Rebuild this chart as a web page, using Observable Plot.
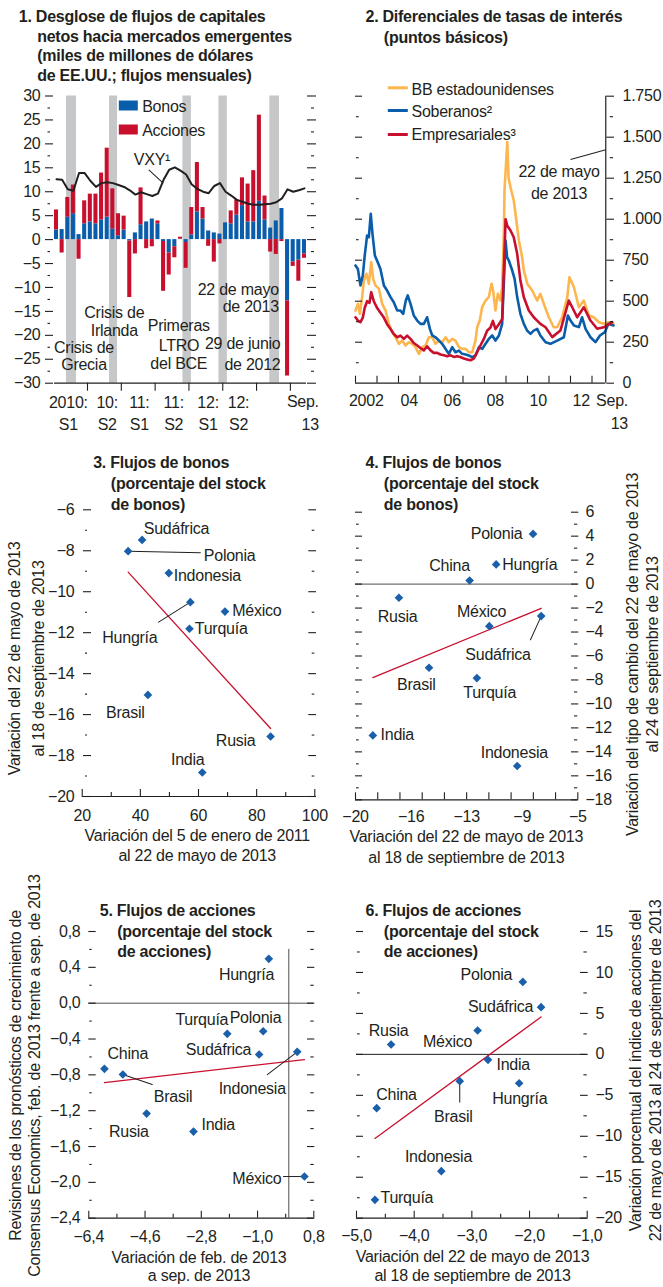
<!DOCTYPE html>
<html><head><meta charset="utf-8">
<script src="https://cdn.jsdelivr.net/npm/d3@7"></script>
<script src="https://cdn.jsdelivr.net/npm/@observablehq/plot@0.6"></script>
<style>
html,body{margin:0;padding:0;background:#fff;}
#root{position:relative;width:663px;height:1287px;overflow:hidden;background:#fff;}
</style></head><body><div id="root"></div>
<script>
// ===================== DATOS =====================
// Panel 1: flujos mensuales (ene-2010 a sep-2013), miles de millones de USD
const bonos = [2.0,2.1,4.7,5.4,1.05,3.3,3.7,3.3,4.1,4.7,2.2,0.8,2.0,-0.3,1.4,3.1,3.7,4.3,3.3,-0.4,-2.8,-1.5,0.1,-0.6,1.0,5.8,4.3,1.8,1.4,1.15,3.5,3.3,5.1,7.1,3.7,3.7,8.0,4.1,2.4,3.9,6.5,-12.8,-4.7,-4.3,-3.0];
const acciones = [4.2,-2.8,4.1,6.0,-4.1,4.8,5.8,6.2,9.8,14.4,8.4,4.6,2.9,-11.8,-3.0,7.7,-1.9,-1.5,0.6,-10.4,-4.6,-2.3,0.4,-5.4,5.7,10.3,2.4,-1.4,-4.7,-0.9,0,2.7,3.2,5.8,7.9,10.7,18.0,5.0,-2.6,-3.1,-0.4,-15.7,-0.9,-4.4,-0.9];
const vxy = [12.6,12.5,10.5,10.2,13.9,13.9,12.3,11.0,11.8,12.0,11.8,11.4,11.0,10.3,9.4,9.9,9.5,9.1,9.6,12.5,14.6,15.1,14.4,13.6,11.5,10.6,10.0,9.7,11.2,11.8,10.0,9.2,8.3,7.9,7.5,7.3,7.3,7.4,7.5,7.8,8.6,10.5,10.0,10.3,10.7];
const bandasGrises = [[1.78,3.55],[9.41,10.83],[22.43,23.93],[28.83,30.32],[37.85,39.57]];
const ticksSemestre = [5.5,11.5,17.5,23.5,29.5,35.5,41.5];
const posSemestre = [2.1,9,14.7,20.8,26.9,32.3];
const etiqSem1 = ["2010:","10:","11:","11:","12:","12:"];
const etiqSem2 = ["S1","S2","S1","S2","S1","S2"];
const ticksY1 = [30,25,20,15,10,5,0,-5,-10,-15,-20,-25,-30];
const ticksY1m = [27.5,22.5,17.5,12.5,7.5,2.5,-2.5,-7.5,-12.5,-17.5,-22.5,-27.5];

// Panel 2: diferenciales (puntos básicos)
const bbX = [2002.00,2002.11,2002.20,2002.31,2002.39,2002.51,2002.62,2002.73,2002.82,2002.93,2003.09,2003.24,2003.40,2003.55,2003.71,2003.86,2004.02,2004.17,2004.33,2004.48,2004.64,2004.79,2004.95,2005.10,2005.26,2005.41,2005.57,2005.72,2005.88,2006.03,2006.19,2006.34,2006.50,2006.65,2006.81,2006.96,2007.12,2007.27,2007.43,2007.58,2007.66,2007.78,2007.89,2008.05,2008.20,2008.33,2008.40,2008.51,2008.62,2008.74,2008.82,2008.90,2008.93,2009.06,2009.12,2009.21,2009.36,2009.44,2009.60,2009.75,2009.83,2009.99,2010.22,2010.45,2010.60,2010.76,2010.99,2011.22,2011.38,2011.61,2011.85,2011.95,2012.16,2012.39,2012.62,2012.85,2013.08,2013.32,2013.55,2013.78,2014.00];
const bbY = [443,484,423,525,626,667,606,738,636,596,575,484,443,362,311,280,240,260,230,250,240,220,179,220,230,280,280,240,260,250,280,250,270,260,220,209,209,189,189,260,342,382,464,504,525,606,565,443,545,504,586,911,1175,1470,1250,1195,1114,1035,870,768,687,607,565,504,545,484,402,341,341,402,524,646,585,463,504,413,402,372,362,372,362];
const sobX = [2002.00,2002.11,2002.23,2002.34,2002.43,2002.54,2002.62,2002.71,2002.79,2002.90,2003.00,2003.16,2003.32,2003.47,2003.63,2003.78,2003.94,2004.09,2004.22,2004.34,2004.43,2004.56,2004.71,2004.87,2005.02,2005.18,2005.33,2005.46,2005.57,2005.72,2005.88,2006.03,2006.19,2006.34,2006.50,2006.65,2006.81,2006.96,2007.12,2007.27,2007.43,2007.58,2007.74,2007.89,2008.05,2008.20,2008.36,2008.51,2008.67,2008.82,2008.93,2008.98,2009.05,2009.13,2009.29,2009.40,2009.52,2009.67,2009.83,2009.98,2010.14,2010.29,2010.45,2010.60,2010.84,2011.07,2011.38,2011.69,2011.88,2012.00,2012.16,2012.39,2012.54,2012.70,2012.93,2013.16,2013.37,2013.60,2013.76,2014.00];
const sobY = [718,697,596,657,779,901,890,1033,911,779,748,697,596,565,525,494,443,443,423,504,535,484,413,382,362,362,402,331,291,280,260,240,209,179,220,189,199,179,175,169,159,169,220,209,240,270,291,260,291,362,707,870,768,748,687,636,525,423,362,321,301,321,331,291,250,240,260,280,413,382,352,342,402,331,280,250,291,311,362,352];
const empX = [2002.00,2002.11,2002.23,2002.34,2002.43,2002.54,2002.65,2002.73,2002.85,2003.00,2003.16,2003.32,2003.47,2003.63,2003.78,2003.94,2004.09,2004.25,2004.40,2004.56,2004.71,2004.87,2005.02,2005.18,2005.33,2005.49,2005.64,2005.80,2005.95,2006.11,2006.26,2006.42,2006.57,2006.73,2006.88,2007.04,2007.19,2007.35,2007.50,2007.66,2007.81,2007.97,2008.12,2008.28,2008.39,2008.51,2008.67,2008.82,2008.93,2008.98,2009.06,2009.21,2009.36,2009.52,2009.67,2009.83,2010.06,2010.29,2010.60,2010.84,2011.15,2011.53,2011.92,2012.08,2012.31,2012.62,2012.93,2013.24,2013.55,2013.94];
const empY = [402,382,372,400,460,500,490,555,500,460,430,400,360,330,300,280,290,270,290,270,245,230,215,200,225,200,185,185,175,170,165,170,160,165,160,150,145,140,150,190,230,270,320,340,380,330,360,390,800,1000,960,931,890,789,626,524,443,402,362,341,281,321,504,463,402,463,382,332,341,372];
const finEje2 = 2013.64;
const ticksAnios = [2002,2003,2004,2005,2006,2007,2008,2009,2010,2011,2012,2013];
const posAnios = [2002.5,2004.5,2006.5,2008.5,2010.5,2012.5];
const etiqAnios = ["2002","04","06","08","10","12"];
const ticksY2 = [0,250,500,750,1000,1250,1500,1750];
const ticksY2m = [125,375,625,875,1125,1375,1625];

// Panel 3
const paises3 = ["Sudáfrica","Polonia","Indonesia","Hungría","México","Turquía","Brasil","Rusia","India"];
const x3 = [40.6,35.8,49.8,57.2,69.1,56.9,42.6,84.8,61.3];
const y3 = [-7.47,-8.02,-9.09,-10.51,-10.97,-11.81,-15.04,-17.07,-18.83];
// Panel 4
const paises4 = ["Polonia","Hungría","China","Rusia","México","Sudáfrica","Brasil","Turquía","India","Indonesia"];
const x4 = [-8.02,-10.51,-12.3,-17.07,-10.97,-7.47,-15.04,-11.81,-18.83,-9.09];
const y4 = [4.19,1.64,0.30,-1.14,-3.51,-2.67,-6.98,-7.84,-12.63,-15.18];
const ticksX4 = [-20,-18.5,-17,-15.5,-14,-12.5,-11,-9.5,-8,-6.5,-5];
const posEtiqX4 = [-20,-16.25,-12.5,-8.75,-5];
const etiqX4 = ["−20","−16","−13","−9","−5"];
// Panel 5
const paises5 = ["Hungría","Turquía","Polonia","Sudáfrica","Indonesia","China","Brasil","Rusia","India","México"];
const x5 = [-0.64,-1.97,-0.82,-0.95,0.27,-5.9,-5.31,-4.55,-3.05,0.5];
const y5 = [0.495,-0.342,-0.313,-0.573,-0.543,-0.733,-0.796,-1.232,-1.433,-1.935];
// Panel 6
const paises6 = ["Polonia","Sudáfrica","México","Rusia","India","Brasil","Hungría","China","Indonesia","Turquía"];
const x6 = [-2.116,-1.80,-2.90,-4.40,-2.72,-3.21,-2.18,-4.65,-3.53,-4.68];
const y6 = [8.85,5.76,2.91,1.20,-0.67,-3.27,-3.52,-6.57,-14.26,-17.76];

// ===================== POSICIONES DE ETIQUETAS (px) =====================
const lab3 = {"Sudáfrica":["start",1.7,-6],"Polonia":["start",75.7,10],"Indonesia":["start",4.9,8.1],"México":["start",7.2,4.9],"Turquía":["start",5.3,5.7],"Hungría":["end",-32.9,41.3],"Brasil":["end",-3.4,22.6],"Rusia":["end",-15.1,10],"India":["end",2.2,-7.1]};
const gui3 = {"Polonia":[72.3,91.3],"Hungría":[37.5,-122.2]};
const lab4 = {"Polonia":["end",-10.7,5.6],"China":["end",0.2,-10],"Hungría":["start",6.1,5.4],"Rusia":["middle",-1.4,24.4],"México":["middle",-7.8,-9],"Sudáfrica":["middle",-43.2,44.4],"Brasil":["middle",-12.7,22.7],"Turquía":["middle",12.8,20.4],"India":["start",7.7,5],"Indonesia":["middle",-2.9,-7.6]};
const gui4 = {"Sudáfrica":[26,-155.7]};
const lab5 = {"Hungría":["middle",-22.3,21],"Turquía":["end",1,-9.3],"Polonia":["middle",-7.7,-8],"Sudáfrica":["end",-7.9,0],"China":["start",3.1,-9.4],"Indonesia":["middle",-45,42.6],"Brasil":["start",30.9,28],"Rusia":["middle",-17.8,23.9],"India":["start",8,-1.8],"México":["end",-22.9,7.2]};
const gui5 = {"Indonesia":[37.7,-127.4],"Brasil":[31,108.8],"México":[21,-90]};
const lab6 = {"Polonia":["end",-10.6,-2.1],"Sudáfrica":["end",-7.8,5.3],"Rusia":["middle",-2.6,-8.1],"México":["end",-5.4,16.2],"India":["start",8.5,10.2],"China":["start",-0.5,-8.1],"Hungría":["middle",0.7,20.3],"Brasil":["middle",-6.4,41.3],"Indonesia":["middle",-2.8,-9.4],"Turquía":["start",5.5,3.2]};
const gui6 = {"Brasil":[21,180]};

// ===================== ESTILO =====================
const INK="#231f20", BLUE="#0a5dab", RED="#c8102e", YEL="#fdb64e", GREYB="#c6c7c9", DOTC="#1a5fa9";
function fontOK(name){
  const c=document.createElement("canvas").getContext("2d");
  const s="Variación del 5 de enero WMmiIl 2011";
  c.font="40px monospace"; const a=c.measureText(s).width;
  c.font="40px serif"; const b=c.measureText(s).width;
  c.font=`40px "${name}", monospace`; const a2=c.measureText(s).width;
  c.font=`40px "${name}", serif`; const b2=c.measureText(s).width;
  return a!==a2 || b!==b2;
}
let FAM, FS, LS;
if (fontOK("Liberation Sans Narrow")) {FAM='"Liberation Sans Narrow", sans-serif'; FS=17; LS=0.65;}
else if (fontOK("Arial Narrow")) {FAM='"Arial Narrow", sans-serif'; FS=17; LS=0.65;}
else {FAM='"Liberation Sans", Arial, sans-serif'; FS=16; LS=-0.25;}

const LINE = {draw(ctx, l){ ctx.moveTo(0,0); ctx.lineTo(0,-l); }};
const fmtEnt = d => (d<0?"−":"")+Math.abs(d);
const fmtMiles = d => d>=1000 ? `${Math.floor(d/1000)}.${String(d%1000).padStart(3,"0")}` : String(d);
const fmtDec = d => (d<-1e-9?"−":"")+Math.abs(d).toFixed(1).replace(".",",");

const root=document.getElementById("root");
function fr(p){return {fx:p.left+p.ml, fy:p.top+p.mt};}
function T(p,str,X,Y,o={}){
  const f=fr(p);
  return Plot.text([str],{text:d=>d,frameAnchor:"top-left",dx:X-f.fx,dy:Y-f.fy,lineAnchor:"bottom",
    textAnchor:o.anchor||"start",fontWeight:o.bold?"bold":"normal",rotate:o.rotate||0,fill:INK});
}
function S(p,X1,Y1,X2,Y2,o={}){
  const f=fr(p), a=X2-X1, b=Y2-Y1;
  return Plot.vector([0],{frameAnchor:"top-left",dx:X1-f.fx,dy:Y1-f.fy,length:Math.hypot(a,b),
    rotate:Math.atan2(a,-b)*180/Math.PI,anchor:"start",shape:LINE,stroke:o.stroke||INK,strokeWidth:o.sw||1,strokeLinecap:"butt"});
}
function yT(side,vals,size,dx){return Plot.axisY({anchor:side,ticks:vals,tickSize:size,dx,fill:"none",stroke:INK,strokeWidth:1.1,label:null});}
function xT(vals,size,dy){return Plot.axisX({anchor:"bottom",ticks:vals,tickSize:size,dy:dy===undefined?-size:dy,fill:"none",stroke:INK,strokeWidth:1.1,label:null});}
function yL(side,vals,fmt,dx){return Plot.text(vals,{y:d=>d,frameAnchor:side,dx,textAnchor:side==="left"?"end":"start",text:fmt,fill:INK});}
function xL(vals,texts,dy){return Plot.text(vals,{x:d=>d,frameAnchor:"bottom",dy,lineAnchor:"bottom",text:(d,i)=>texts[i],fill:INK});}
function render(p,opts){
  const svg=Plot.plot({width:p.width,height:p.height,marginLeft:p.ml,marginRight:p.mr,marginTop:p.mt,marginBottom:p.mb,...opts});
  const st=svg.style;
  st.position="absolute"; st.left=p.left+"px"; st.top=p.top+"px"; st.overflow="visible";
  st.background="transparent"; st.maxWidth="none"; st.fontFamily=FAM; st.fontSize=FS+"px";
  st.letterSpacing=LS+"px"; st.color=INK;
  root.appendChild(svg);
}
function scatter(nombres,xs,ys,lab,gui){
  const datos=nombres.map((n,i)=>({n,x:xs[i],y:ys[i]}));
  const m=[Plot.linearRegressionY(datos,{x:"x",y:"y",stroke:RED,strokeWidth:1.3,ci:0})];
  for(const d of datos){const g=gui[d.n]; if(g) m.push(Plot.vector([d],{x:"x",y:"y",length:g[0],rotate:g[1],anchor:"start",shape:LINE,stroke:INK,strokeWidth:1}));}
  m.push(Plot.dot(datos,{x:"x",y:"y",symbol:"diamond2",r:3.9,fill:DOTC,stroke:"none"}));
  for(const d of datos){const e=lab[d.n]; m.push(Plot.text([d],{x:"x",y:"y",text:"n",textAnchor:e[0],dx:e[1],dy:e[2],lineAnchor:"bottom",fill:INK}));}
  return m;
}

// ===================== PANEL 1 =====================
{
  const p={left:0,top:0,width:331,height:440,ml:54,mr:25,mt:95.5,mb:57.3};
  const barras=[];
  bonos.forEach((b,i)=>{
    const a=acciones[i];
    barras.push({i,s:"B",y1:0,y2:b});
    const base=((a>=0)===(b>=0))?b:0;
    barras.push({i,s:"A",y1:base,y2:base+a});
  });
  render(p,{
    x:{domain:[-0.355,44.36]}, y:{domain:[-30,30]},
    marks:[
      Plot.rect(bandasGrises,{x1:d=>d[0],x2:d=>d[1],y1:-30,y2:30,fill:GREYB}),
      Plot.rect(barras.filter(d=>d.s==="B"),{x1:d=>d.i-0.36,x2:d=>d.i+0.36,y1:"y1",y2:"y2",fill:BLUE}),
      Plot.rect(barras.filter(d=>d.s==="A"),{x1:d=>d.i-0.36,x2:d=>d.i+0.36,y1:"y1",y2:"y2",fill:RED}),
      Plot.line(vxy,{x:(d,i)=>i,y:d=>d,stroke:INK,strokeWidth:2}),
      Plot.ruleY([-30],{stroke:INK,strokeWidth:1.2}),
      yT("left",ticksY1,8,-1), yT("left",ticksY1m,2.5,-4),
      yT("right",ticksY1,9,0), yT("right",ticksY1m,3,4),
      yL("left",ticksY1,fmtEnt,-14),
      xT(ticksSemestre,8,0),
      xL(posSemestre,etiqSem1,24.6), xL(posSemestre,etiqSem2,46.6),
      T(p,"Sep.",318.3,406.7,{anchor:"end"}), T(p,"13",318.3,429.3,{anchor:"end"}),
      T(p,"1. Desglose de flujos de capitales",18.3,21.7,{bold:true}),
      T(p,"netos hacia mercados emergentes",36.7,41.3,{bold:true}),
      T(p,"(miles de millones de dólares",36.7,60.9,{bold:true}),
      T(p,"de EE.UU.; flujos mensuales)",36.7,80.5,{bold:true}),
      S(p,118.3,105,137.3,105,{stroke:BLUE,sw:10}), S(p,118.3,129,137.3,129,{stroke:RED,sw:10}),
      T(p,"Bonos",141.7,111.7), T(p,"Acciones",141.7,135),
      T(p,"VXY¹",133.3,164), S(p,148.3,169.3,162.7,182.7),
      T(p,"Crisis de",83.5,352.7,{anchor:"middle"}), T(p,"Grecia",83.5,369.3,{anchor:"middle"}),
      T(p,"Crisis de",113.8,317.3,{anchor:"middle"}), T(p,"Irlanda",113.8,335,{anchor:"middle"}),
      T(p,"Primeras",178.3,330,{anchor:"middle"}), T(p,"LTRO",178.5,350,{anchor:"middle"}), T(p,"del BCE",178.3,368.7,{anchor:"middle"}),
      T(p,"22 de mayo",278.3,294.3,{anchor:"end"}), T(p,"de 2013",278.3,311.7,{anchor:"end"}),
      T(p,"29 de junio",280,348.7,{anchor:"end"}), T(p,"de 2012",280,369.3,{anchor:"end"})
    ]
  });
}

// ===================== PANEL 2 =====================
{
  const p={left:331,top:0,width:332,height:440,ml:24,mr:50,mt:95.7,mb:57.3};
  const bb=bbX.map((x,i)=>({x,y:bbY[i]}));
  const sob=sobX.map((x,i)=>({x,y:sobY[i]}));
  const emp=empX.map((x,i)=>({x,y:empY[i]}));
  render(p,{
    x:{domain:[2002,2014]}, y:{domain:[0,1750]},
    marks:[
      Plot.line(bb,{x:"x",y:"y",stroke:YEL,strokeWidth:2.6,strokeLinejoin:"round"}),
      Plot.line(sob,{x:"x",y:"y",stroke:BLUE,strokeWidth:2.6,strokeLinejoin:"round"}),
      Plot.line(emp,{x:"x",y:"y",stroke:RED,strokeWidth:2.6,strokeLinejoin:"round"}),
      Plot.ruleY([0],{x1:2002,x2:finEje2,stroke:INK,strokeWidth:1.2}),
      Plot.ruleX([finEje2],{y1:0,y2:1750,stroke:INK,strokeWidth:1.2}),
      xT(ticksAnios,7),
      xL(posAnios,etiqAnios,23),
      T(p,"Sep.",627.5,405.7,{anchor:"end"}), T(p,"13",627.5,428.3,{anchor:"end"}),
      yT("left",ticksY2.slice(1),7,7), yT("left",ticksY2m,2.7,3.7),
      yT("right",ticksY2,7.7,-7.7), yT("right",ticksY2m,3.4,-4.3),
      yL("right",ticksY2,fmtMiles,9),
      T(p,"2. Diferenciales de tasas de interés",365,21.7,{bold:true}),
      T(p,"(puntos básicos)",383.3,42.7,{bold:true}),
      S(p,387.3,87.3,407.3,87.3,{stroke:YEL,sw:3}), S(p,387.3,110,407.3,110,{stroke:BLUE,sw:3}), S(p,387.3,134,407.3,134,{stroke:RED,sw:3}),
      T(p,"BB estadounidenses",411,94), T(p,"Soberanos²",411,116.7), T(p,"Empresariales³",411,139.3),
      T(p,"22 de mayo",558.5,176.7,{anchor:"middle"}), T(p,"de 2013",558.5,198.3,{anchor:"middle"}),
      S(p,570,159,605.3,149.3)
    ]
  });
}

// ===================== PANEL 3 =====================
{
  const p={left:0,top:440,width:331,height:430,ml:81.7,mr:16.7,mt:69.3,mb:74};
  const yM=[-6,-8,-10,-12,-14,-16,-18,-20], ym=[-7,-9,-11,-13,-15,-17,-19];
  render(p,{
    x:{domain:[20,100]}, y:{domain:[-20,-6]},
    marks:[
      Plot.ruleY([-20],{stroke:INK,strokeWidth:1.2}),
      yT("left",yM,8,9.3), yT("left",ym,2,5.3), yT("right",yM,7.7,-7), yT("right",ym,2.6,-3.6),
      yL("left",yM,fmtEnt,-7.7),
      xT([20,40,60,80,100],7), xT([30,50,70,90],4),
      xL([20,40,60,80,100],["20","40","60","80","100"],24),
      ...scatter(paises3,x3,y3,lab3,gui3),
      T(p,"3. Flujos de bonos",92.7,467.7,{bold:true}),
      T(p,"(porcentaje del stock",110.3,488.3,{bold:true}),
      T(p,"de bonos)",110.3,509.3,{bold:true}),
      T(p,"Variación del 5 de enero de 2011",196.7,840,{anchor:"middle"}),
      T(p,"al 22 de mayo de 2013",196.7,860.7,{anchor:"middle"}),
      T(p,"Variación del 22 de mayo de 2013",20,658,{anchor:"middle",rotate:-90}),
      T(p,"al 18 de septiembre de 2013",44,658,{anchor:"middle",rotate:-90})
    ]
  });
}

// ===================== PANEL 4 =====================
{
  const p={left:331,top:440,width:332,height:430,ml:24,mr:85.7,mt:71.7,mb:70.7};
  const yM=[6,4,2,0,-2,-4,-6,-8,-10,-12,-14,-16,-18], ym=[5,3,1,-1,-3,-5,-7,-9,-11,-13,-15,-17];
  render(p,{
    x:{domain:[-20,-5]}, y:{domain:[-18,6]},
    marks:[
      Plot.ruleY([0],{stroke:"#4d4d4f",strokeWidth:1}),
      Plot.ruleY([-18],{stroke:INK,strokeWidth:1.2}),
      yT("left",yM,7,7), yT("left",ym,2.7,3.7), yT("right",yM,7.3,-7.3), yT("right",ym,3.3,-4.3),
      yL("right",yM,fmtEnt,7.7),
      xT(ticksX4,7),
      xL(posEtiqX4,etiqX4,21.7),
      ...scatter(paises4,x4,y4,lab4,gui4),
      T(p,"4. Flujos de bonos",365,467.7,{bold:true}),
      T(p,"(porcentaje del stock",383.3,488.3,{bold:true}),
      T(p,"de bonos)",383.3,509.3,{bold:true}),
      T(p,"Variación del 22 de mayo de 2013",465.8,841.7,{anchor:"middle"}),
      T(p,"al 18 de septiembre de 2013",465.8,862.3,{anchor:"middle"}),
      T(p,"Variación del tipo de cambio del 22 de mayo de 2013",637.5,654,{anchor:"middle",rotate:-90}),
      T(p,"al 24 de septiembre de 2013",657,654,{anchor:"middle",rotate:-90})
    ]
  });
}

// ===================== PANEL 5 =====================
{
  const p={left:0,top:870,width:331,height:417,ml:88.3,mr:17.7,mt:61,mb:69.3};
  const yM=[0.8,0.4,0,-0.4,-0.8,-1.2,-1.6,-2.0,-2.4], ym=[0.6,0.2,-0.2,-0.6,-1.0,-1.4,-1.8,-2.2];
  const xM=[-6.4,-4.6,-2.8,-1.0,0.8], xm=[-5.5,-3.7,-1.9,-0.1];
  render(p,{
    x:{domain:[-6.4,0.8]}, y:{domain:[-2.4,0.8]},
    marks:[
      Plot.ruleY([0],{stroke:"#4d4d4f",strokeWidth:1}),
      Plot.ruleX([0],{y1:-2.4,y2:0.6,stroke:"#4d4d4f",strokeWidth:1}),
      Plot.ruleY([-2.4],{stroke:INK,strokeWidth:1.2}),
      yT("left",yM,7.4,7.4), yT("left",ym,2.4,3.4), yT("right",yM,7.3,-7.3), yT("right",ym,3.4,-4),
      yL("left",yM,fmtDec,-8.3),
      xT(xM,7), xT(xm,4),
      xL(xM,xM.map(fmtDec),24),
      ...scatter(paises5,x5,y5,lab5,gui5),
      T(p,"5. Flujos de acciones",99.3,915,{bold:true}),
      T(p,"(porcentaje del stock",116.7,936,{bold:true}),
      T(p,"de acciones)",116.7,956.7,{bold:true}),
      T(p,"Variación de feb. de 2013",198.5,1262.3,{anchor:"middle"}),
      T(p,"a sep. de 2013",198.5,1280.7,{anchor:"middle"}),
      T(p,"Revisiones de los pronósticos de crecimiento de",20.5,1075,{anchor:"middle",rotate:-90}),
      T(p,"Consensus Economics, feb. de 2013 frente a sep. de 2013",39.5,1075,{anchor:"middle",rotate:-90})
    ]
  });
}

// ===================== PANEL 6 =====================
{
  const p={left:331,top:870,width:332,height:417,ml:25,mr:76.3,mt:61,mb:69.3};
  const yM=[15,10,5,0,-5,-10,-15,-20], ym=[12.5,7.5,2.5,-2.5,-7.5,-12.5,-17.5];
  const xM=[-5,-4,-3,-2,-1], xm=[-4.5,-3.5,-2.5,-1.5];
  render(p,{
    x:{domain:[-5,-1]}, y:{domain:[-20,15]},
    marks:[
      Plot.ruleY([0],{stroke:INK,strokeWidth:1}),
      Plot.ruleY([-20],{stroke:INK,strokeWidth:1.2}),
      yT("left",yM,7,7), yT("left",ym,2.7,3.7), yT("right",yM,7.7,-7.7), yT("right",ym,3.4,-4.3),
      yL("right",yM,fmtEnt,8.3),
      xT(xM,7), xT(xm,4),
      xL(xM,xM.map(fmtDec),22.3),
      ...scatter(paises6,x6,y6,lab6,gui6),
      T(p,"6. Flujos de acciones",365,915,{bold:true}),
      T(p,"(porcentaje del stock",383.3,936,{bold:true}),
      T(p,"de acciones)",383.3,956.7,{bold:true}),
      T(p,"Variación del 22 de mayo de 2013",472,1261.7,{anchor:"middle"}),
      T(p,"al 18 de septiembre de 2013",472,1280.7,{anchor:"middle"}),
      T(p,"Variación porcentual del índice de acciones del",640.5,1070,{anchor:"middle",rotate:-90}),
      T(p,"22 de mayo de 2013 al 24 de septiembre de 2013",660,1070,{anchor:"middle",rotate:-90})
    ]
  });
}
</script></body></html>
